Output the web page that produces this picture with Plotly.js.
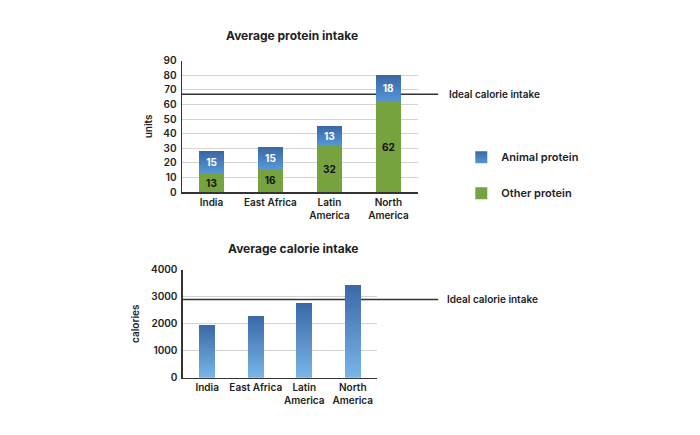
<!DOCTYPE html>
<html><head><meta charset="utf-8">
<script src="https://cdn.plot.ly/plotly-3.0.1.min.js"></script>
<style>html,body{margin:0;padding:0;background:#fff}#graph{width:700px;height:435px}</style>
</head><body>
<svg width="0" height="0" style="position:absolute">
<defs>
<linearGradient id="gAnimal" x1="0" y1="0" x2="0" y2="1">
<stop offset="0" stop-color="#3a67a6"/><stop offset="1" stop-color="#5596d6"/>
</linearGradient>
<linearGradient id="gCal" x1="0" y1="0" x2="0" y2="1">
<stop offset="0" stop-color="#3a68a7"/><stop offset="1" stop-color="#79b5e7"/>
</linearGradient>
</defs>
</svg>
<div id="graph"></div>
<script>
var regions = ["India", "East Africa", "Latin<br>America", "North<br>America"];
var otherProtein = [13, 16, 32, 62];
var animalProtein = [15, 15, 13, 18];
var calories = [1950, 2300, 2750, 3450];
var idealProtein = 67;
var idealCalories = 2900;
var idealLabel = "Ideal calorie intake";

var FONT = "Inter, 'Open Sans', sans-serif";
var tickFont = {family: FONT, size: 10, color: "#222", weight: 600};

var traces = [
  {type: "bar", name: "Other protein", x: regions, y: otherProtein, xaxis: "x", yaxis: "y",
   marker: {color: "#76a23f"}, width: 0.41, legendgroup: "b", legendrank: 2,
   text: otherProtein.map(String), textposition: "inside", insidetextanchor: "middle",
   textfont: {family: FONT, size: 10, color: "#111", weight: 700}, hoverinfo: "none"},
  {type: "bar", name: "Animal protein", x: regions, y: animalProtein, xaxis: "x", yaxis: "y",
   marker: {color: "#4579ba"}, width: 0.41, legendgroup: "a", legendrank: 1,
   text: animalProtein.map(String), textposition: "inside", insidetextanchor: "middle",
   textfont: {family: FONT, size: 10, color: "#fff", weight: 700}, hoverinfo: "none"},
  {type: "bar", name: "Calories", x: regions, y: calories, xaxis: "x2", yaxis: "y2",
   marker: {color: "#5a8ec9"}, width: 0.33, showlegend: false, hoverinfo: "none"}
];

var axisCommon = {
  showline: true, linecolor: "#333", linewidth: 1.5, zeroline: false,
  tickfont: tickFont, ticks: "", fixedrange: true
};

var layout = {
  width: 700, height: 435,
  margin: {l: 0, r: 0, t: 0, b: 0},
  paper_bgcolor: "#fff", plot_bgcolor: "rgba(0,0,0,0)",
  barmode: "stack",
  showlegend: true,
  legend: {x: 0.659, y: 0.672, xanchor: "left", yanchor: "top",
           font: {family: FONT, size: 11, color: "#222", weight: 600},
           traceorder: "grouped", tracegroupgap: 17, bgcolor: "rgba(0,0,0,0)"},
  xaxis: Object.assign({}, axisCommon, {domain: [0.26, 0.597], anchor: "y", showgrid: false, tickangle: 0}),
  yaxis: Object.assign({}, axisCommon, {domain: [0.5586, 0.8605], anchor: "x", range: [0, 90],
          dtick: 10, showgrid: true, gridcolor: "#d4d4d4", gridwidth: 1, ticklabelstandoff: 2,
          title: {text: "units", font: {family: FONT, size: 10, color: "#222", weight: 600}, standoff: 8}}),
  xaxis2: Object.assign({}, axisCommon, {domain: [0.2614, 0.5386], anchor: "y2", showgrid: false, tickangle: 0}),
  yaxis2: Object.assign({}, axisCommon, {domain: [0.1317, 0.38], anchor: "x2", range: [0, 4000],
          dtick: 1000, showgrid: true, gridcolor: "#d4d4d4", gridwidth: 1, ticklabelstandoff: 2,
          title: {text: "calories", font: {family: FONT, size: 10, color: "#222", weight: 600}, standoff: 9}}),
  shapes: [
    {type: "line", xref: "paper", yref: "y", x0: 0.26, x1: 0.626, y0: idealProtein, y1: idealProtein,
     line: {color: "#333", width: 1.5}, layer: "below"},
    {type: "line", xref: "paper", yref: "y2", x0: 0.2614, x1: 0.626, y0: idealCalories, y1: idealCalories,
     line: {color: "#333", width: 1.5}, layer: "below"}
  ],
  annotations: [
    {text: "Average protein intake", xref: "paper", yref: "paper", x: 0.417, y: 0.9195, yanchor: "middle",
     showarrow: false, font: {family: FONT, size: 12, color: "#222", weight: 700}},
    {text: "Average calorie intake", xref: "paper", yref: "paper", x: 0.419, y: 0.4276, yanchor: "middle",
     showarrow: false, font: {family: FONT, size: 12, color: "#222", weight: 700}},
    {text: idealLabel, xref: "paper", yref: "y", x: 0.638, y: idealProtein, xanchor: "left",
     showarrow: false, font: {family: FONT, size: 10, color: "#222", weight: 600}},
    {text: idealLabel, xref: "paper", yref: "y2", x: 0.636, y: idealCalories, xanchor: "left",
     showarrow: false, font: {family: FONT, size: 10, color: "#222", weight: 600}}
  ]
};

var gd = document.getElementById("graph");
function applyGradients() {
  document.querySelectorAll(".barlayer .trace").forEach(function (el) {
    var d = el.__data__; if (!d || !d[0]) return;
    var name = d[0].trace.name;
    var g = name === "Animal protein" ? "url(#gAnimal)" : (name === "Calories" ? "url(#gCal)" : null);
    if (!g) return;
    el.querySelectorAll(".point path").forEach(function (p) { p.style.fill = g; });
  });
  document.querySelectorAll(".legend .traces").forEach(function (el) {
    var d = el.__data__; if (!d || !d[0]) return;
    if (d[0].trace.name === "Animal protein") {
      el.querySelectorAll(".legendpoints path").forEach(function (p) { p.style.fill = "url(#gAnimal)"; });
    }
  });
}
Plotly.newPlot(gd, traces, layout, {staticPlot: true, displayModeBar: false}).then(function () {
  applyGradients();
  gd.on && gd.on("plotly_afterplot", applyGradients);
});
</script>
</body></html>
